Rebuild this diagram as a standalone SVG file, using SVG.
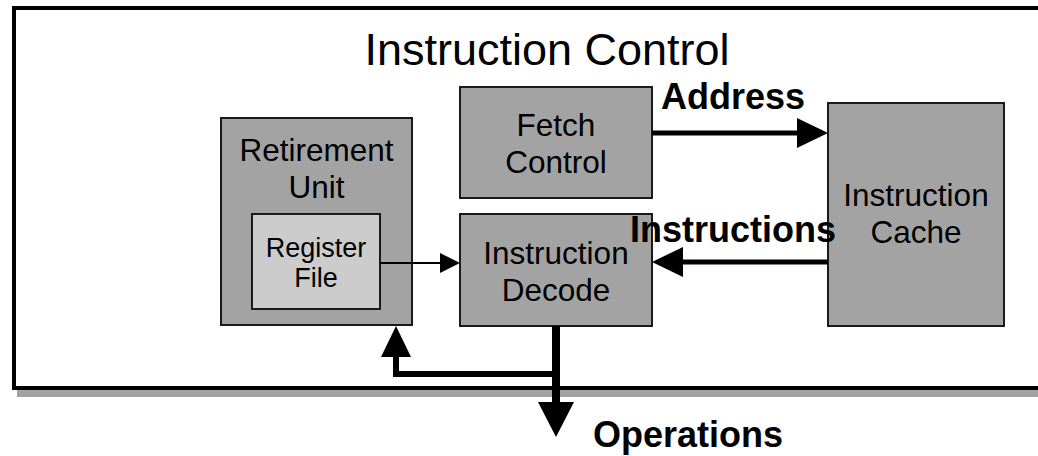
<svg xmlns="http://www.w3.org/2000/svg" width="1038" height="456" viewBox="0 0 1038 456">
<style>
text{font-family:"Liberation Sans",Arial,sans-serif;fill:#000;text-anchor:middle}
.box{fill:#a3a3a3;stroke:#1a1a1a;stroke-width:2}
.inner{fill:#cccccc;stroke:#1a1a1a;stroke-width:2}
.nt{font-size:31.5px}
.st{font-size:27px}
.lbl{font-size:36px;font-weight:bold;text-anchor:start}
.wire{stroke:#000;fill:none}
.head{fill:#000}
</style>
<rect width="1038" height="456" fill="#fff"/>
<g id="frame">
<rect x="17" y="16" width="1040" height="381" fill="#a3a3a3"/>
<rect x="14" y="8" width="1040" height="380" fill="#fff" stroke="#000" stroke-width="4"/>
<text x="547" y="65" style="font-size:45px">Instruction Control</text>
</g>
<g id="retirement">
<rect class="box" x="221" y="118" width="191" height="207"/>
<text class="nt" x="316.5" y="161">Retirement</text>
<text class="nt" x="316.5" y="198">Unit</text>
</g>
<g id="register">
<rect class="inner" x="252" y="214" width="128" height="95"/>
<text class="st" x="316" y="257">Register</text>
<text class="st" x="316" y="287">File</text>
</g>
<g id="fetch">
<rect class="box" x="460" y="87" width="192" height="111"/>
<text class="nt" x="556" y="136">Fetch</text>
<text class="nt" x="556" y="173">Control</text>
</g>
<g id="decode">
<rect class="box" x="460" y="214" width="192" height="112"/>
<text class="nt" x="556" y="264">Instruction</text>
<text class="nt" x="556" y="301">Decode</text>
</g>
<g id="cache">
<rect class="box" x="828" y="103" width="176" height="223"/>
<text class="nt" x="916" y="206">Instruction</text>
<text class="nt" x="916" y="243">Cache</text>
</g>
<g id="connectors">
<line class="wire" x1="652" y1="133" x2="798" y2="133" stroke-width="5"/>
<polygon class="head" points="797,118 828,133 797,148"/>
<line class="wire" x1="828" y1="262" x2="682" y2="262" stroke-width="5"/>
<polygon class="head" points="683,247 652,262 683,277"/>
<line class="wire" x1="380" y1="263" x2="441" y2="263" stroke-width="2"/>
<polygon class="head" points="440,253 460,263 440,273"/>
<line class="wire" x1="556" y1="326" x2="556" y2="403" stroke-width="8"/>
<polygon class="head" points="538,402 556,437 574,402"/>
<polyline class="wire" points="556,374 396,374 396,356" stroke-width="6"/>
<polygon class="head" points="381,357 396,326 411,357"/>
</g>
<g id="labels">
<text class="lbl" x="661" y="109">Address</text>
<text class="lbl" x="630" y="242">Instructions</text>
<text class="lbl" x="593" y="447">Operations</text>
</g>
</svg>
